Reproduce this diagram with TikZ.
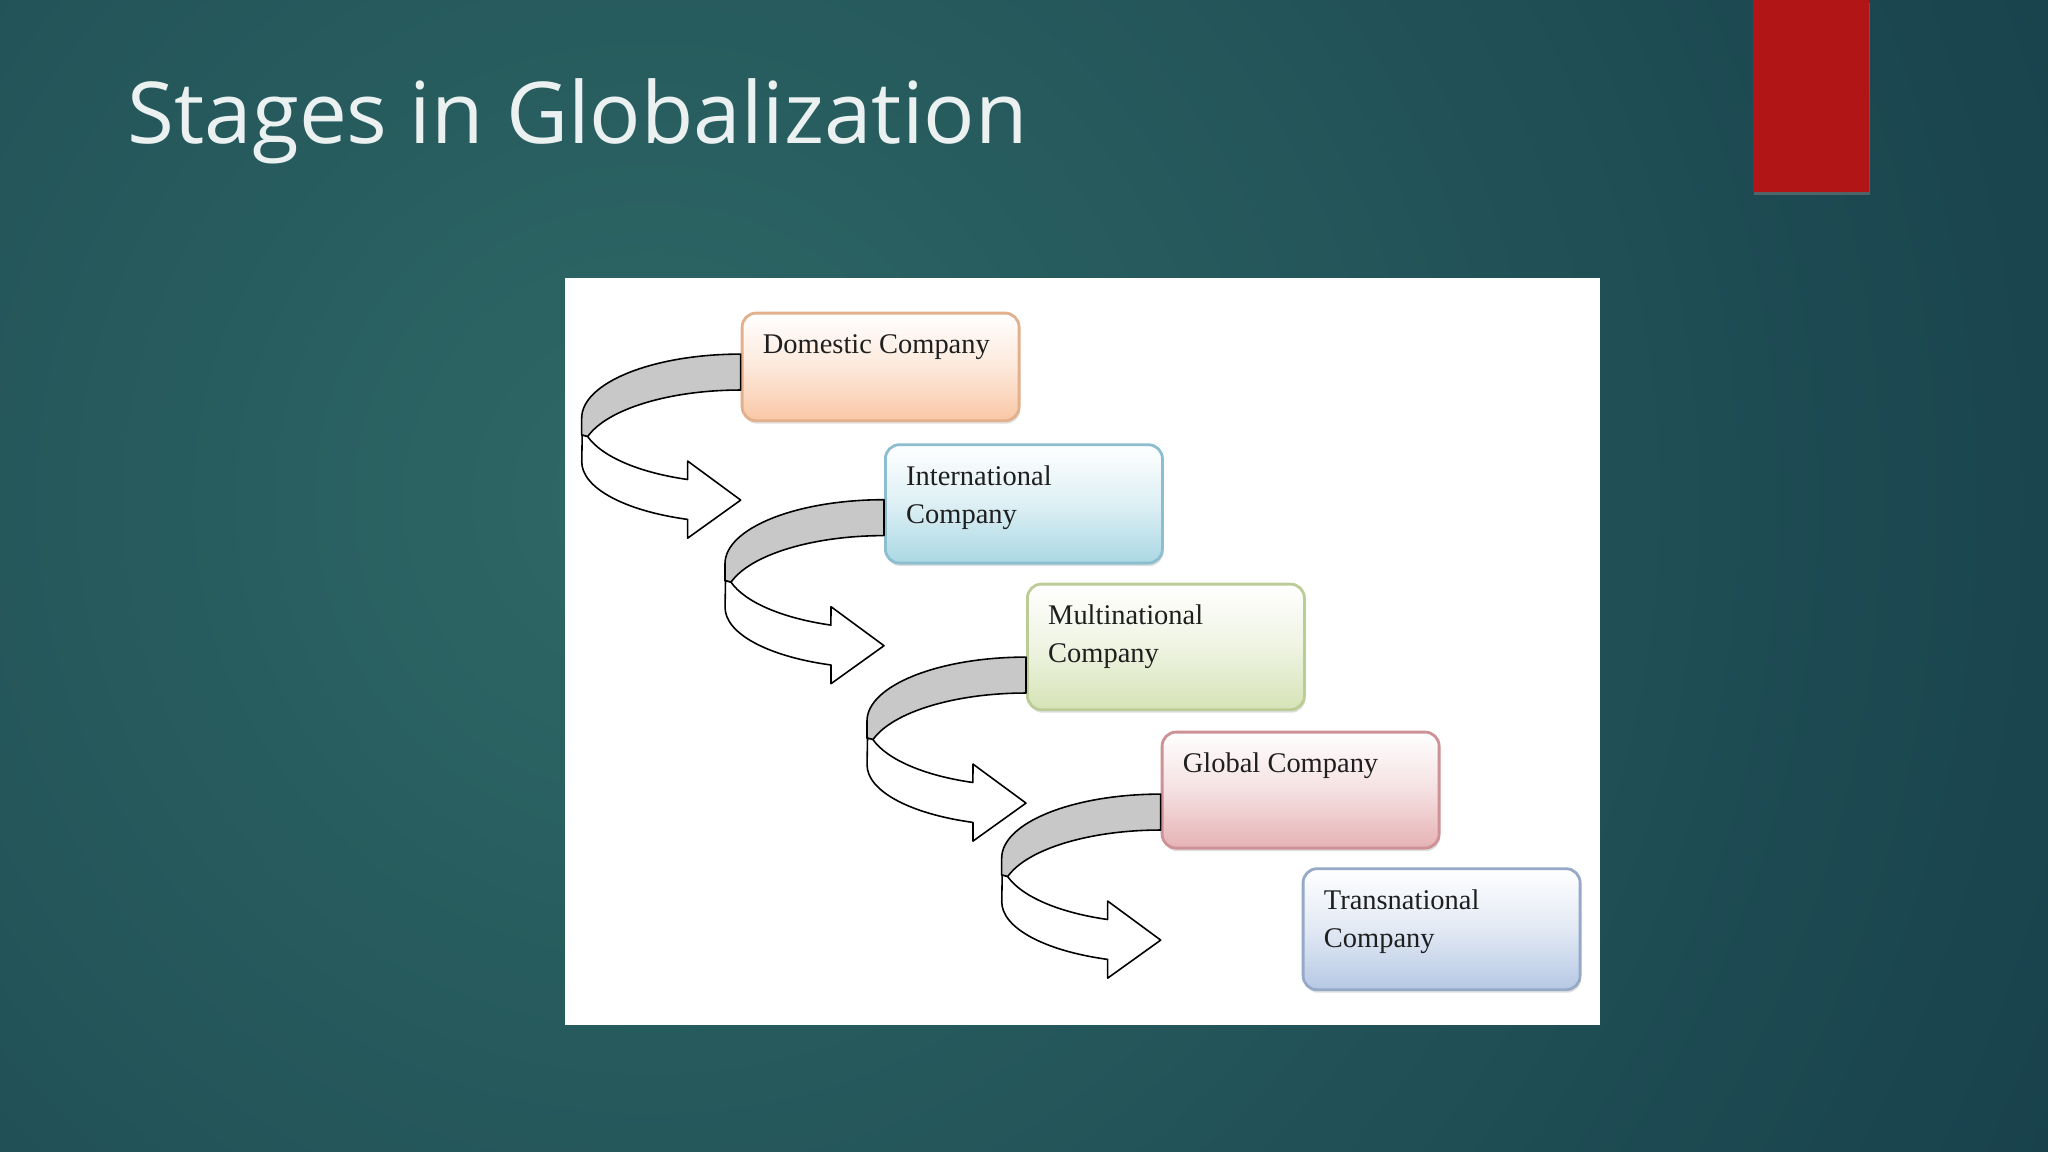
\documentclass[tikz,border=0pt]{standalone}
\usepackage{fontspec}
\usetikzlibrary{calc,shadows}
\newfontfamily\titlefont{Open Sans}
\newfontfamily\stagefont{Liberation Serif}

\definecolor{bgdark}{RGB}{19,56,70}
\definecolor{bglight}{RGB}{46,104,102}
\definecolor{barred}{RGB}{177,21,21}
\definecolor{ribbon}{RGB}{200,200,200}
\definecolor{domfill}{RGB}{249,199,165}
\definecolor{domline}{RGB}{226,176,140}
\definecolor{intlfill}{RGB}{170,216,228}
\definecolor{intlline}{RGB}{140,190,208}
\definecolor{multifill}{RGB}{214,227,182}
\definecolor{multiline}{RGB}{188,204,150}
\definecolor{globfill}{RGB}{230,178,180}
\definecolor{globline}{RGB}{205,145,150}
\definecolor{transfill}{RGB}{182,200,228}
\definecolor{transline}{RGB}{150,170,200}

\tikzset{
  stagebox/.style={draw, line width=0.8pt, rounded corners=0.14cm, anchor=north west,
    minimum width=2.77cm, inner sep=0pt,
    drop shadow={shadow xshift=0.01cm, shadow yshift=-0.03cm, opacity=0.25}},
  stagetext/.style={anchor=north west, inner sep=0pt, align=left, text=black!88,
    font=\stagefont\fontsize{8.1pt}{10.9pt}\selectfont},
  band/.style={draw=black, line width=0.45pt, line join=round},
}

\begin{document}
\begin{tikzpicture}
  \useasboundingbox (0,0) rectangle (20.48,-11.52);
  % backdrop
  \fill[bgdark] (0,0) rectangle (20.48,-11.52);
  \begin{scope}
    \clip (0,0) rectangle (20.48,-11.52);
    \shade[inner color=bglight, outer color=bgdark] (6.5,-5) circle (19);
  \end{scope}
  \fill[barred, drop shadow={shadow xshift=0.01cm, shadow yshift=-0.03cm, opacity=0.5}]
    (17.53,0) rectangle (18.69,-1.92);
  \node[anchor=base west, inner sep=0pt, text={rgb,255:red,235;green,240;blue,240},
    font=\titlefont\fontsize{24.3pt}{29pt}\selectfont] (title) at (1.27,-1.437)
    {Stages in Globalization};

  % white panel
  \fill[white] (5.65,-2.78) rectangle (16.0,-10.25);

  % stage boxes
  \node[stagebox, draw=domline, top color=white, bottom color=domfill,
    middle color=domfill!40!white, minimum height=1.076cm] (dom) at (7.407,-3.117) {};
  \node[stagebox, draw=intlline, top color=white, bottom color=intlfill,
    middle color=intlfill!40!white, minimum height=1.184cm] (intl) at (8.84,-4.433) {};
  \node[stagebox, draw=multiline, top color=white, bottom color=multifill,
    middle color=multifill!40!white, minimum height=1.256cm] (multi) at (10.26,-5.827) {};
  \node[stagebox, draw=globline, top color=white, bottom color=globfill,
    middle color=globfill!40!white, minimum height=1.16cm] (glob) at (11.607,-7.307) {};
  \node[stagebox, draw=transline, top color=white, bottom color=transfill,
    middle color=transfill!40!white, minimum height=1.21cm] (trans) at (13.017,-8.673) {};

  \node[stagetext] (domtxt) at ($(dom.north west)+(0.215,-0.142)$) {\strut Domestic Company};
  \node[stagetext] (intltxt) at ($(intl.north west)+(0.215,-0.142)$) {\strut International\\Company};
  \node[stagetext] (multitxt) at ($(multi.north west)+(0.215,-0.142)$) {\strut Multinational\\Company};
  \node[stagetext] (globtxt) at ($(glob.north west)+(0.215,-0.142)$) {\strut Global Company};
  \node[stagetext] (transtxt) at ($(trans.north west)+(0.215,-0.142)$) {\strut Transnational\\Company};

  % curved ribbon arrows
  \foreach \src/\dy in {dom/0.128, intl/0.042, multi/-0.102, glob/-0.04}{
    \begin{scope}[shift={($(\src.west)+(0,\dy)$)}]
      \filldraw[band, fill=ribbon] (0,0)
        arc[start angle=90, end angle=180, x radius=1.59, y radius=0.64]
        -- (-1.59,-0.81) -- (-1.53,-0.825)
        arc[start angle=164.2, end angle=90, x radius=1.59, y radius=0.64] -- cycle;
      \filldraw[band, fill=white] (-1.53,-0.825)
        arc[start angle=195.8, end angle=250.5, x radius=1.59, y radius=0.64]
        -- (-0.53,-1.07) -- (0,-1.46) -- (-0.53,-1.84) -- (-0.53,-1.653)
        arc[start angle=250.5, end angle=180, x radius=1.59, y radius=0.61]
        -- (-1.585,-0.81) -- cycle;
    \end{scope}
  }
\end{tikzpicture}
\end{document}
